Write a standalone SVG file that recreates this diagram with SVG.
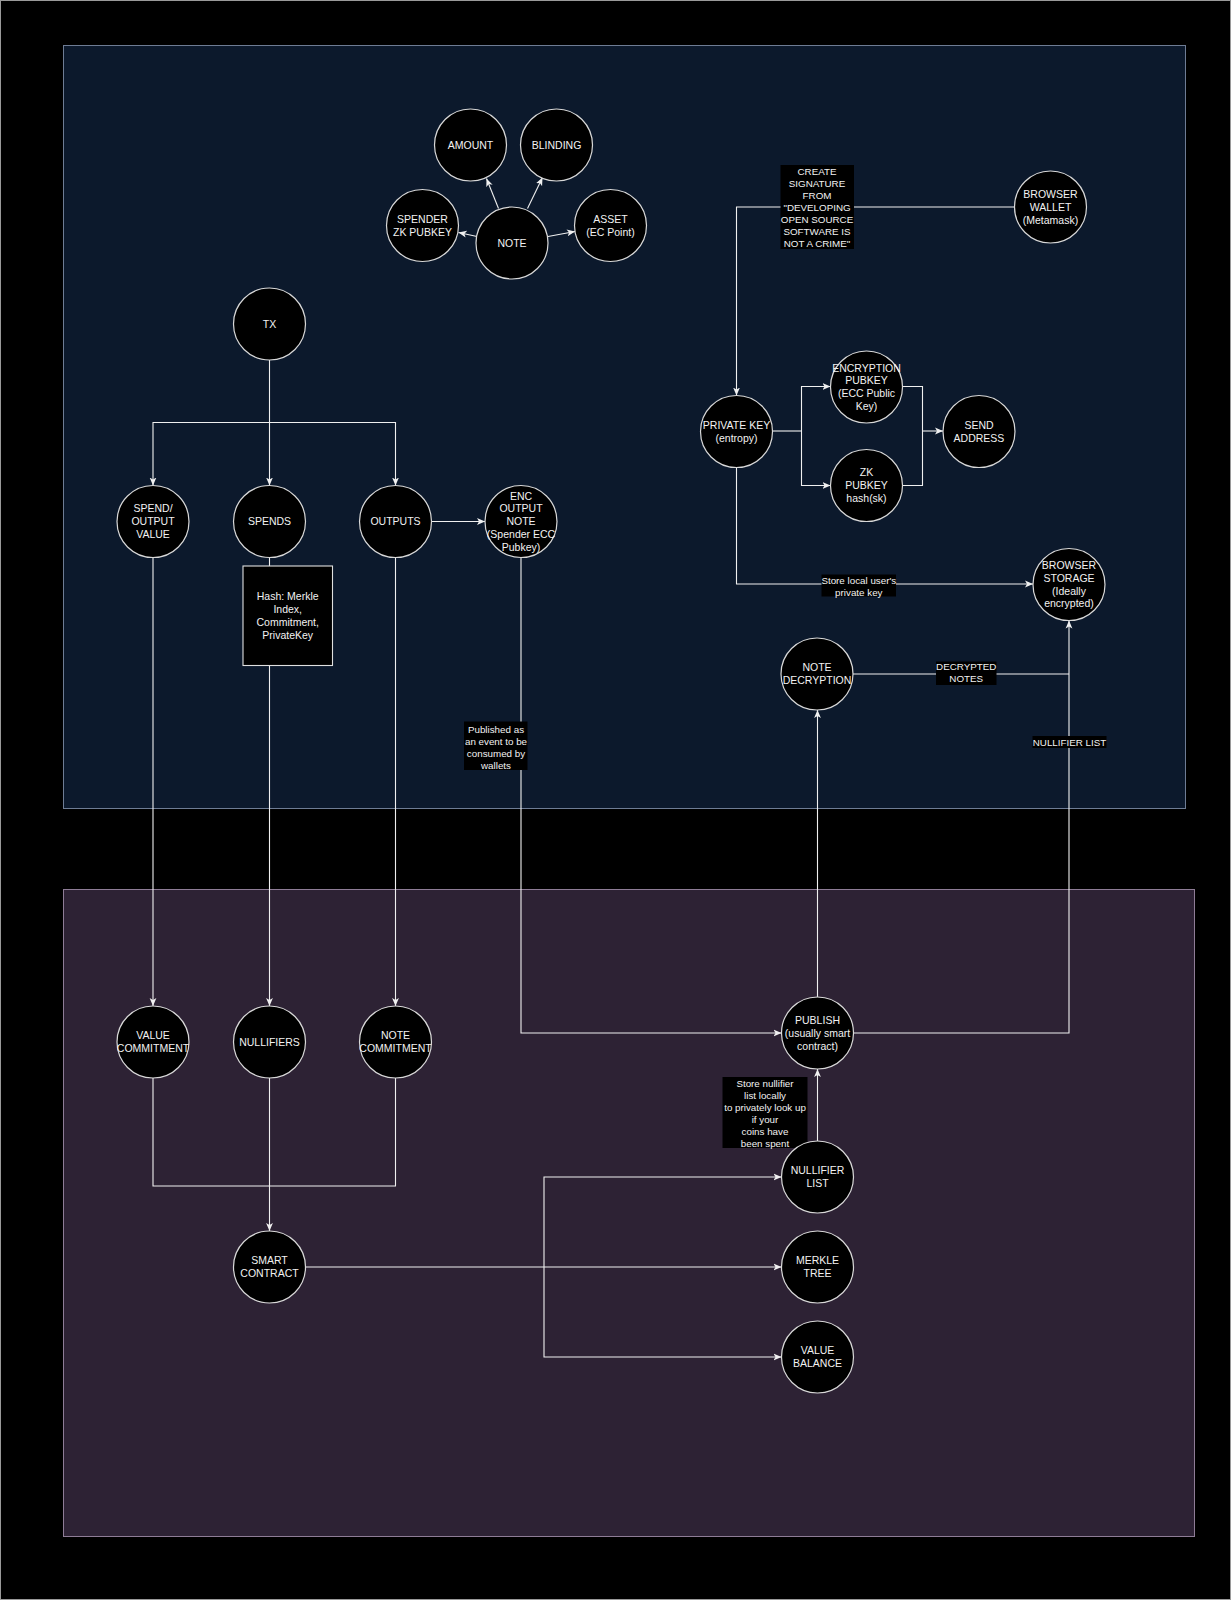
<svg xmlns="http://www.w3.org/2000/svg" width="1231" height="1600" viewBox="0 0 1231 1600">
<defs>
<marker id="arr" viewBox="0 0 8 8" refX="8" refY="4" markerWidth="8" markerHeight="8" orient="auto" markerUnits="userSpaceOnUse">
<path d="M0,0.6 L8,4 L0,7.4 L2,4 Z" fill="#f0f0f0"/>
</marker>
<style>
.n{fill:#000;stroke:#d8d8d8;stroke-width:1.2}
.t{font-family:"Liberation Sans",Arial,Helvetica,sans-serif;font-size:10.5px;fill:#f2f2f2;text-anchor:middle}
.l{font-family:"Liberation Sans",Arial,Helvetica,sans-serif;font-size:9.8px;fill:#f2f2f2;text-anchor:middle}
.c{fill:none;stroke:#f0f0f0;stroke-width:1.1}
.a{marker-end:url(#arr)}
.lb{fill:#000}
</style>
</defs>
<rect x="0.5" y="0.5" width="1230" height="1599" fill="#000" stroke="#9a9a9a" stroke-width="1"/>
<g id="panels">
<rect x="63.5" y="45.5" width="1122" height="763" fill="#0c192c" stroke="#6e7c94" stroke-width="1"/>
<rect x="63.5" y="889.5" width="1131" height="647" fill="#2d2234" stroke="#8e7c96" stroke-width="1"/>
</g>
<g id="connectors">
<path class="c a" d="M498.5,208.5 L486.5,178.5"/>
<path class="c a" d="M527.5,208.5 L542.5,177.5"/>
<path class="c a" d="M477,236.5 L458.5,232.5"/>
<path class="c a" d="M548,236.5 L575,231.5"/>
<path class="c a" d="M269.5,359.5 L269.5,485.5"/>
<path class="c a" d="M269.5,422.5 L153,422.5 L153,485.5"/>
<path class="c a" d="M269.5,422.5 L395.5,422.5 L395.5,485.5"/>
<path class="c a" d="M431.5,521.5 L485,521.5"/>
<path class="c a" d="M153,557.5 L153,1006"/>
<path class="c a" d="M269.5,557.5 L269.5,1006"/>
<path class="c a" d="M395.5,557.5 L395.5,1006"/>
<path class="c a" d="M521,557.5 L521,1033 L781.5,1033"/>
<path class="c" d="M153,1078 L153,1186 L395.5,1186 L395.5,1078"/>
<path class="c a" d="M269.5,1078 L269.5,1231"/>
<path class="c a" d="M305.5,1267 L781.5,1267"/>
<path class="c a" d="M544,1267 L544,1177 L781.5,1177"/>
<path class="c a" d="M544,1267 L544,1357 L781.5,1357"/>
<path class="c a" d="M817.5,1141 L817.5,1069"/>
<path class="c a" d="M817.5,997 L817.5,710"/>
<path class="c a" d="M853.5,1033 L1069,1033 L1069,620.5"/>
<path class="c" d="M853,674 L1069,674"/>
<path class="c a" d="M1014.5,207 L736.5,207 L736.5,395.5"/>
<path class="c a" d="M736.5,467.5 L736.5,584 L1033,584"/>
<path class="c" d="M772.5,431 L801.5,431"/>
<path class="c a" d="M801.5,431 L801.5,386.5 L830.5,386.5"/>
<path class="c a" d="M801.5,431 L801.5,485.5 L830.5,485.5"/>
<path class="c" d="M902.5,386.5 L922.5,386.5 L922.5,485.5 L902.5,485.5"/>
<path class="c a" d="M922.5,431 L943,431"/>
<rect class="lb" x="780.5" y="165" width="73.5" height="84"/>
<text class="l"><tspan x="817" y="175">CREATE</tspan><tspan x="817" y="187">SIGNATURE</tspan><tspan x="817" y="199">FROM</tspan><tspan x="817" y="211">"DEVELOPING</tspan><tspan x="817" y="223">OPEN SOURCE</tspan><tspan x="817" y="235">SOFTWARE IS</tspan><tspan x="817" y="247">NOT A CRIME"</tspan></text>
<rect class="lb" x="821.5" y="574.5" width="74.5" height="22"/>
<text class="l"><tspan x="858.8" y="583.5">Store local user's</tspan><tspan x="858.8" y="595.5">private key</tspan></text>
<rect class="lb" x="936" y="661.5" width="60.5" height="23.5"/>
<text class="l"><tspan x="966.2" y="670.2">DECRYPTED</tspan><tspan x="966.2" y="682.2">NOTES</tspan></text>
<rect class="lb" x="1032.5" y="736" width="74" height="12"/>
<text class="l" x="1069.5" y="745.5">NULLIFIER LIST</text>
<rect class="lb" x="464" y="721.5" width="63.5" height="48.5"/>
<text class="l"><tspan x="496" y="732.8">Published as</tspan><tspan x="496" y="744.8">an event to be</tspan><tspan x="496" y="756.8">consumed by</tspan><tspan x="496" y="768.5">wallets</tspan></text>
<rect class="lb" x="722.5" y="1077" width="85" height="71"/>
<text class="l"><tspan x="765" y="1086.8">Store nullifier</tspan><tspan x="765" y="1098.8">list locally</tspan><tspan x="765" y="1110.8">to privately look up</tspan><tspan x="765" y="1122.8">if your</tspan><tspan x="765" y="1134.8">coins have</tspan><tspan x="765" y="1146.5">been spent</tspan></text>
</g>
<g id="node-amount"><circle class="n" cx="470.5" cy="145" r="36"/><text class="t" x="470.5" y="148.7">AMOUNT</text></g>
<g id="node-blinding"><circle class="n" cx="556.5" cy="145" r="36"/><text class="t" x="556.5" y="148.7">BLINDING</text></g>
<g id="node-spender"><circle class="n" cx="422.5" cy="225.5" r="36"/><text class="t"><tspan x="422.5" y="222.8">SPENDER</tspan><tspan x="422.5" y="235.6">ZK PUBKEY</tspan></text></g>
<g id="node-note"><circle class="n" cx="512" cy="243" r="36"/><text class="t" x="512" y="246.7">NOTE</text></g>
<g id="node-asset"><circle class="n" cx="610.5" cy="225.5" r="36"/><text class="t"><tspan x="610.5" y="222.8">ASSET</tspan><tspan x="610.5" y="235.6">(EC Point)</tspan></text></g>
<g id="node-tx"><circle class="n" cx="269.5" cy="324" r="36"/><text class="t" x="269.5" y="328">TX</text></g>
<g id="node-spend-output-value"><circle class="n" cx="153" cy="521.5" r="36"/><text class="t"><tspan x="153" y="512.4">SPEND/</tspan><tspan x="153" y="525.2">OUTPUT</tspan><tspan x="153" y="538">VALUE</tspan></text></g>
<g id="node-spends"><circle class="n" cx="269.5" cy="521.5" r="36"/><text class="t" x="269.5" y="525.2">SPENDS</text></g>
<g id="node-hash"><rect x="243" y="566" width="89.5" height="99.5" fill="#000" stroke="#e0e0e0" stroke-width="1.1"/><text class="t"><tspan x="287.7" y="600.4">Hash: Merkle</tspan><tspan x="287.7" y="613.4">Index,</tspan><tspan x="287.7" y="626.4">Commitment,</tspan><tspan x="287.7" y="639.4">PrivateKey</tspan></text></g>
<g id="node-outputs"><circle class="n" cx="395.5" cy="521.5" r="36"/><text class="t" x="395.5" y="525.2">OUTPUTS</text></g>
<g id="node-enc-output-note"><circle class="n" cx="521" cy="521.5" r="36"/><text class="t"><tspan x="521" y="499.6">ENC</tspan><tspan x="521" y="512.4">OUTPUT</tspan><tspan x="521" y="525.2">NOTE</tspan><tspan x="521" y="538">(Spender ECC</tspan><tspan x="521" y="550.8">Pubkey)</tspan></text></g>
<g id="node-browser-wallet"><circle class="n" cx="1050.5" cy="207" r="36"/><text class="t"><tspan x="1050.5" y="197.9">BROWSER</tspan><tspan x="1050.5" y="210.7">WALLET</tspan><tspan x="1050.5" y="223.5">(Metamask)</tspan></text></g>
<g id="node-private-key"><circle class="n" cx="736.5" cy="431.5" r="36"/><text class="t"><tspan x="736.5" y="428.8">PRIVATE KEY</tspan><tspan x="736.5" y="441.6">(entropy)</tspan></text></g>
<g id="node-encryption-pubkey"><circle class="n" cx="866.5" cy="387" r="36"/><text class="t"><tspan x="866.5" y="371.5">ENCRYPTION</tspan><tspan x="866.5" y="384.3">PUBKEY</tspan><tspan x="866.5" y="397.1">(ECC Public</tspan><tspan x="866.5" y="409.9">Key)</tspan></text></g>
<g id="node-zk-pubkey"><circle class="n" cx="866.5" cy="485.5" r="36"/><text class="t"><tspan x="866.5" y="476.4">ZK</tspan><tspan x="866.5" y="489.2">PUBKEY</tspan><tspan x="866.5" y="502">hash(sk)</tspan></text></g>
<g id="node-send-address"><circle class="n" cx="979" cy="431.5" r="36"/><text class="t"><tspan x="979" y="428.8">SEND</tspan><tspan x="979" y="441.6">ADDRESS</tspan></text></g>
<g id="node-browser-storage"><circle class="n" cx="1069" cy="584.5" r="36"/><text class="t"><tspan x="1069" y="569">BROWSER</tspan><tspan x="1069" y="581.8">STORAGE</tspan><tspan x="1069" y="594.6">(Ideally</tspan><tspan x="1069" y="607.4">encrypted)</tspan></text></g>
<g id="node-note-decryption"><circle class="n" cx="817" cy="674" r="36"/><text class="t"><tspan x="817" y="671.3">NOTE</tspan><tspan x="817" y="684.1">DECRYPTION</tspan></text></g>
<g id="node-publish"><circle class="n" cx="817.5" cy="1033" r="36"/><text class="t"><tspan x="817.5" y="1023.9">PUBLISH</tspan><tspan x="817.5" y="1036.7">(usually smart</tspan><tspan x="817.5" y="1049.5">contract)</tspan></text></g>
<g id="node-nullifier-list"><circle class="n" cx="817.5" cy="1177" r="36"/><text class="t"><tspan x="817.5" y="1174.3">NULLIFIER</tspan><tspan x="817.5" y="1187.1">LIST</tspan></text></g>
<g id="node-merkle-tree"><circle class="n" cx="817.5" cy="1267" r="36"/><text class="t"><tspan x="817.5" y="1264.3">MERKLE</tspan><tspan x="817.5" y="1277.1">TREE</tspan></text></g>
<g id="node-value-balance"><circle class="n" cx="817.5" cy="1357" r="36"/><text class="t"><tspan x="817.5" y="1354.3">VALUE</tspan><tspan x="817.5" y="1367.1">BALANCE</tspan></text></g>
<g id="node-value-commitment"><circle class="n" cx="153" cy="1042" r="36"/><text class="t"><tspan x="153" y="1039.3">VALUE</tspan><tspan x="153" y="1052.1">COMMITMENT</tspan></text></g>
<g id="node-nullifiers"><circle class="n" cx="269.5" cy="1042" r="36"/><text class="t" x="269.5" y="1045.7">NULLIFIERS</text></g>
<g id="node-note-commitment"><circle class="n" cx="395.5" cy="1042" r="36"/><text class="t"><tspan x="395.5" y="1039.3">NOTE</tspan><tspan x="395.5" y="1052.1">COMMITMENT</tspan></text></g>
<g id="node-smart-contract"><circle class="n" cx="269.5" cy="1267" r="36"/><text class="t"><tspan x="269.5" y="1264.3">SMART</tspan><tspan x="269.5" y="1277.1">CONTRACT</tspan></text></g>
</svg>
